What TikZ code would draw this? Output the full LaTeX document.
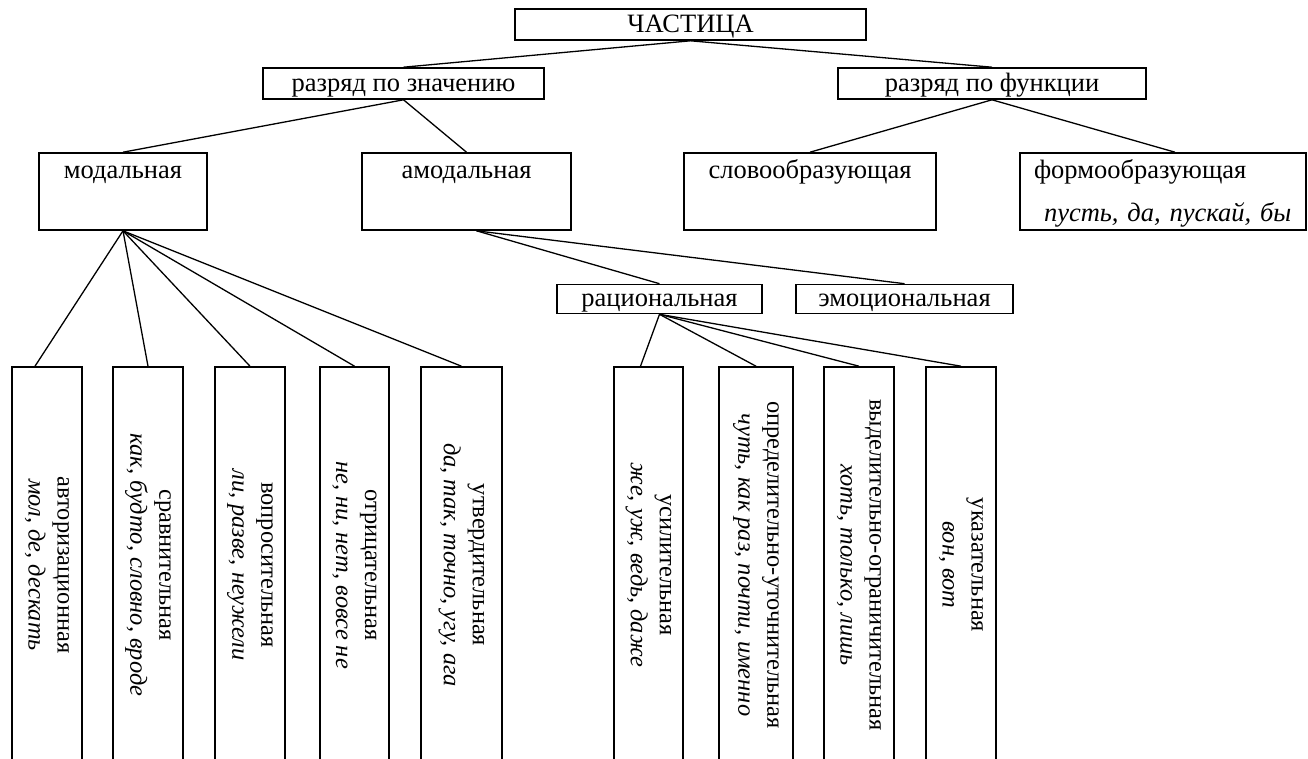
\documentclass[tikz,border=0pt]{standalone}
\usepackage{fontspec}
\setmainfont{Liberation Serif}
\usetikzlibrary{positioning}
\tikzstyle{block} = [rectangle, draw, line width=1.6pt, inner sep=0pt,
    align=center, font=\fontsize{26.5}{31}\selectfont]
\tikzstyle{flatblock} = [block, text height=21pt, text depth=6pt]
\tikzstyle{tallblock} = [block, minimum height=77pt]
\tikzstyle{vblock} = [rectangle, draw, line width=1.6pt, inner sep=0pt,
    rotate=-90, minimum width=396pt, align=center,
    font=\fontsize{24.4}{29}\selectfont]
\tikzstyle{line} = [draw, line width=1.3pt]
\newcommand{\topgap}{\rule{0pt}{25pt}}
\newcommand{\lowgap}{\rule[-9pt]{0pt}{9pt}}

\begin{document}
\begin{tikzpicture}[x=1pt, y=-1pt]
    \useasboundingbox (0,0) rectangle (1308,758);
    \clip (0,0) rectangle (1308,758);
        % Nodes
    \node [flatblock, minimum width=351pt, minimum height=31pt] (part) at (690.5,24.5) {ЧАСТИЦА};
    \node [flatblock, minimum width=281pt, minimum height=31pt] (mean) at (403.5,83.5) {разряд по значению};
    \node [flatblock, minimum width=308pt, minimum height=31pt] (func) at (992,83.5) {разряд по функции};
    \node [tallblock, minimum width=168pt] (mod) at (123,191.5) {\topgap модальная\\[12pt]\lowgap};
    \node [tallblock, minimum width=209pt] (amod) at (466.5,191.5) {\topgap амодальная\\[12pt]\lowgap};
    \node [tallblock, minimum width=252pt] (word) at (810,191.5) {\topgap словообразующая\\[12pt]\lowgap};
    \node [tallblock, text width=258pt, inner xsep=14pt, align=left] (form) at (1163,191.5)
        {\topgap формообразующая\\[12pt]\hspace*{10pt}\textit{пусть, да, пускай, бы}\lowgap};
    \node [flatblock, minimum width=205pt, minimum height=29pt] (rat) at (659.5,299) {рациональная};
    \node [flatblock, minimum width=217pt, minimum height=29pt] (emo) at (904.5,299) {эмоциональная};
        % modal particles
    \node [vblock, minimum height=70pt] (auth) at (47,565) {авторизационная\\\textit{мол, де, дескать}};
    \node [vblock, minimum height=70pt] (comp) at (148,565) {сравнительная\\\textit{как, будто, словно, вроде}};
    \node [vblock, minimum height=70pt] (quest) at (250,565) {вопросительная\\\textit{ли, разве, неужели}};
    \node [vblock, minimum height=69pt] (neg) at (354.5,565) {отрицательная\\\textit{не, ни, нет, вовсе не}};
    \node [vblock, minimum height=81pt] (affirm) at (461.5,565) {утвердительная\\\textit{да, так, точно, угу, ага}};
        % rational particles
    \node [vblock, minimum height=69pt] (intens) at (648.5,565) {усилительная\\\textit{же, уж, ведь, даже}};
    \node [vblock, minimum height=74pt] (spec) at (756,565) {определительно-уточнительная\\\textit{чуть, как раз, почти, именно}};
    \node [vblock, minimum height=70pt] (restr) at (859,565) {выделительно-ограничительная\\\textit{хоть, только, лишь}};
    \node [vblock, minimum height=70pt] (point) at (961,565) {указательная\\\textit{вон, вот}};
        % Edges
    \path [line] (part.south) -- (mean.north);
    \path [line] (part.south) -- (func.north);
    \path [line] (mean.south) -- (mod.north);
    \path [line] (mean.south) -- (amod.north);
    \path [line] (func.south) -- (word.north);
    \path [line] (func.south) -- ([xshift=12pt]form.north);
    \path [line] ([xshift=10pt]amod.south) -- (rat.north);
    \path [line] ([xshift=10pt]amod.south) -- (emo.north);
    \path [line] (mod.south) -- ([xshift=-12pt]auth.west);
    \path [line] (mod.south) -- (comp.west);
    \path [line] (mod.south) -- (quest.west);
    \path [line] (mod.south) -- (neg.west);
    \path [line] (mod.south) -- (affirm.west);
    \path [line] (rat.south) -- ([xshift=-8pt]intens.west);
    \path [line] (rat.south) -- (spec.west);
    \path [line] (rat.south) -- (restr.west);
    \path [line] (rat.south) -- (point.west);
\end{tikzpicture}
\end{document}
